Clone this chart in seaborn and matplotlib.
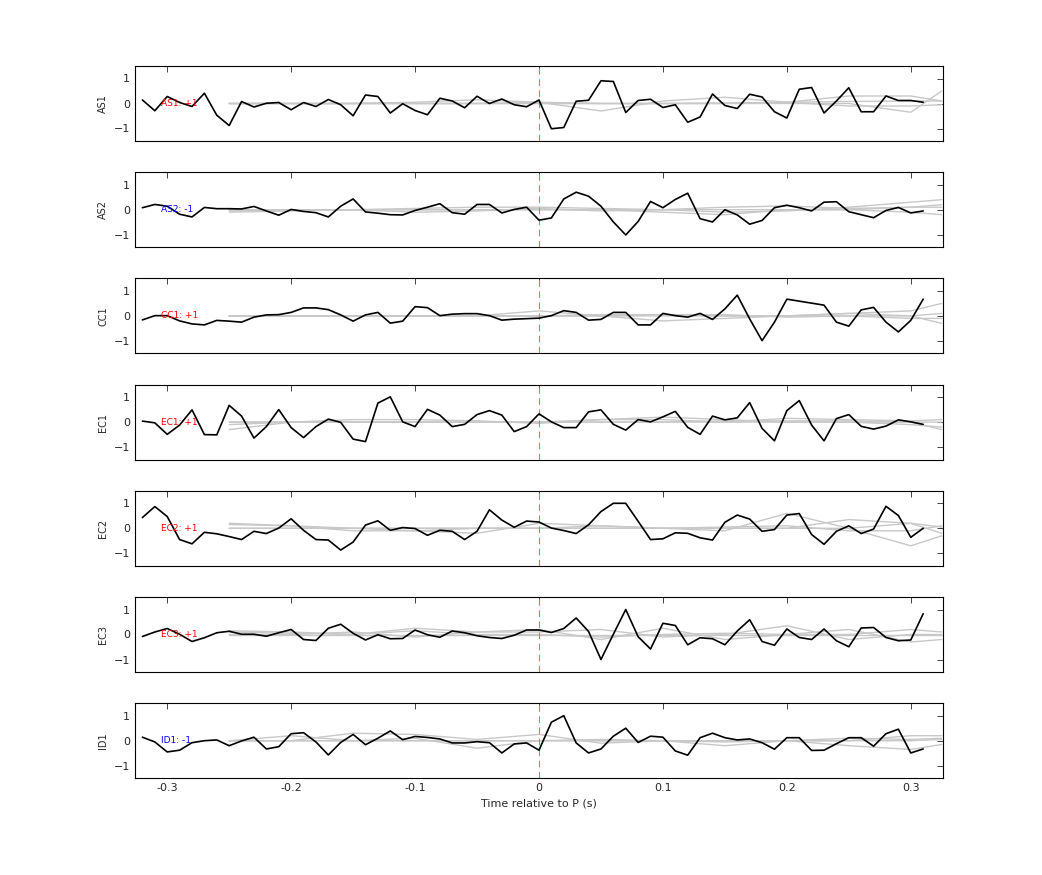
import numpy as np
import pandas as pd
import matplotlib
matplotlib.use("Agg")
import matplotlib.pyplot as plt
import seaborn as sns

sns.set_style("white")
plt.rcParams['font.family'] = ['DejaVu Sans']

stations = ["AS1", "AS2", "CC1", "EC1", "EC2", "EC3", "ID1"]
polarity = ["+1", "-1", "+1", "+1", "+1", "+1", "-1"]
times = np.round(np.arange(-0.32, 0.315, 0.01), 2)

AS1 = [0.14,-0.29,0.28,0.04,-0.12,0.41,-0.47,-0.88,0.08,-0.14,0.01,0.04,-0.25,0.04,-0.12,0.16,
       -0.05,-0.49,0.34,0.28,-0.38,-0.01,-0.28,-0.45,0.21,0.1,-0.17,0.29,0,0.18,-0.05,-0.13,
       0.14,-1.01,-0.96,0.09,0.13,0.91,0.88,-0.36,0.12,0.17,-0.16,-0.05,-0.75,-0.54,0.38,-0.08,
       -0.2,0.37,0.26,-0.33,-0.58,0.57,0.64,-0.38,0.1,0.63,-0.33,-0.33,0.3,0.12,0.12,0.05]
AS2 = [0.08,0.21,0.14,-0.18,-0.29,0.09,0.04,0.04,0.03,0.13,-0.05,-0.22,0.01,-0.07,-0.12,-0.29,
       0.14,0.43,-0.09,-0.14,-0.2,-0.21,-0.03,0.1,0.24,-0.12,-0.18,0.21,0.21,-0.13,0.01,0.1,
       -0.42,-0.33,0.43,0.7,0.54,0.14,-0.49,-1.01,-0.47,0.33,0.08,0.41,0.66,-0.36,-0.49,0,
       -0.21,-0.58,-0.43,0.08,0.18,0.08,-0.05,0.3,0.32,-0.08,-0.2,-0.32,-0.03,0.09,-0.13,-0.05]
CC1 = [-0.16,0.01,0.01,-0.2,-0.32,-0.36,-0.18,-0.21,-0.25,-0.05,0.04,0.05,0.14,0.32,0.32,0.25,
       0.04,-0.21,0.04,0.14,-0.29,-0.21,0.37,0.33,0.01,0.07,0.09,0.09,0.01,-0.17,-0.13,-0.11,
       -0.09,0.01,0.21,0.14,-0.17,-0.14,0.14,0.14,-0.36,-0.36,0.1,0.01,-0.05,0.1,-0.14,0.28,
       0.83,-0.12,-0.99,-0.25,0.67,0.59,0.51,0.43,-0.25,-0.41,0.24,0.34,-0.25,-0.64,-0.18,0.67]
EC1 = [0.04,-0.03,-0.49,-0.12,0.49,-0.5,-0.51,0.67,0.24,-0.64,-0.18,0.5,-0.22,-0.62,-0.18,0.12,
       -0.01,-0.68,-0.78,0.76,1.01,0.01,-0.18,0.51,0.28,-0.18,-0.09,0.3,0.46,0.28,-0.38,-0.18,
       0.33,0.01,-0.22,-0.22,0.41,0.49,-0.09,-0.32,0.1,0.01,0.21,0.43,-0.21,-0.49,0.24,0.09,
       0.17,0.78,-0.25,-0.75,0.46,0.86,-0.12,-0.75,0.14,0.3,-0.17,-0.28,-0.16,0.09,0.01,-0.09]
EC2 = [0.43,0.87,0.47,-0.45,-0.62,-0.16,-0.22,-0.33,-0.45,-0.12,-0.21,0.01,0.38,-0.08,-0.45,-0.47,
       -0.87,-0.55,0.13,0.3,-0.08,0.03,-0.01,-0.28,-0.08,-0.12,-0.45,-0.12,0.74,0.33,0.04,0.29,
       0.25,0.01,-0.09,-0.21,0.14,0.67,1.0,1.0,0.28,-0.45,-0.42,-0.18,-0.2,-0.38,-0.47,0.24,
       0.53,0.37,-0.12,-0.05,0.53,0.59,-0.25,-0.64,-0.12,0.1,-0.21,-0.03,0.88,0.51,-0.36,0]
EC3 = [-0.08,0.1,0.24,0.01,-0.28,-0.13,0.07,0.13,0.01,0.01,-0.07,0.07,0.2,-0.2,-0.24,0.25,
       0.41,0.05,-0.22,-0.01,-0.17,-0.16,0.18,-0.01,-0.11,0.14,0.07,-0.05,-0.12,-0.16,-0.03,0.18,
       0.18,0.08,0.24,0.66,0.12,-1.0,0.01,1.0,-0.09,-0.58,0.45,0.36,-0.41,-0.13,-0.17,-0.41,
       0.14,0.59,-0.28,-0.43,0.22,-0.12,-0.2,0.22,-0.25,-0.49,0.26,0.28,-0.12,-0.25,-0.22,0.83]
ID1 = [0.14,-0.05,-0.45,-0.38,-0.08,0,0.03,-0.2,-0.01,0.14,-0.33,-0.24,0.28,0.32,-0.05,-0.57,
       -0.07,0.25,-0.16,0.1,0.39,0.04,0.17,0.13,0.07,-0.09,-0.09,-0.04,-0.08,-0.49,-0.13,-0.09,
       -0.38,0.74,1.0,-0.09,-0.49,-0.33,0.18,0.5,-0.07,0.18,0.14,-0.41,-0.58,0.12,0.3,0.12,
       0.03,0.07,-0.08,-0.34,0.12,0.12,-0.39,-0.38,-0.12,0.12,0.12,-0.22,0.28,0.46,-0.49,-0.33]
black = [AS1, AS2, CC1, EC1, EC2, EC3, ID1]

# gray reference traces (coarse samples)
gtimes = [-0.25,-0.2,-0.15,-0.1,-0.05,0.0,0.05,0.1,0.15,0.2,0.25,0.3,0.325]
gray = {
 "AS1": [[0,0,0,0,0,0.05,-0.3,0.1,0.25,0.05,-0.1,-0.1,-0.05],
         [0,0,0,0.05,0.15,0.05,0,0,0,0.05,0.3,0.3,0.1],
         [0,0,0,0,0,0,0,0,0,0,0,-0.35,0.5],
         [0,0,0,0,0,0,0,0,0.02,0.05,0.08,0.1,0.1]],
 "AS2": [[-0.1,-0.05,0,0.05,0.1,0.1,0.05,0,-0.1,-0.05,0.1,0.3,0.4],
         [0,0,0,-0.1,-0.05,0.05,-0.05,0,0.1,0.15,0.05,0.1,0.1],
         [-0.05,0,0,0,0,0,0,-0.1,-0.2,0,0,-0.1,-0.2],
         [0,0,0,0,0,0,0,0,0,0,0,0.1,0.2]],
 "CC1": [[0,0,0,0,0,0.2,0,-0.2,-0.1,0,0.1,0,-0.3],
         [0,0,0,0,0,0,0.05,0.05,0,0,0.1,0.2,0.5],
         [0,0,0,0,0,0,0,0,0,0,0,0,0.1],
         [0,0,0,0,0,0,0,0.05,0.05,-0.05,0,-0.1,-0.1]],
 "EC1": [[-0.3,0,0,0,0,0,0.1,0.2,0.1,0,0,-0.1,-0.2],
         [-0.1,0,0.1,0.1,0.05,-0.05,0.1,0.1,0,0.15,0.1,0.05,0.1],
         [0,0,0,0,0,0,0,0,0,0,0,0,-0.3],
         [0,0,0,0,0,0,0,0,0.05,0.05,0.05,0,0]],
 "EC2": [[0.2,0.1,-0.1,-0.1,-0.2,0.2,0.1,0,-0.1,0.6,0,-0.7,-0.3],
         [0,0,0,0,0,0,0.1,0,0,0,0.35,0.2,0.05],
         [0.15,0.1,0,-0.1,0,0,0,0,0.05,0.1,-0.1,-0.1,0.1],
         [0,0,0,0,0,0,0,0,0,0,0,0.2,-0.2]],
 "EC3": [[0.15,0.1,0,0.25,0.1,0.1,0.2,-0.1,0,0.35,-0.2,0,0],
         [0,0,0.1,-0.1,0.1,0.2,-0.2,0.25,-0.2,0,0.2,-0.3,-0.2],
         [0,0,0,0,0,0,0,0,0,0,0,0,0],
         [0.1,0.05,0,0.15,0,0,-0.1,0,0.05,0,0,0.2,0.1]],
 "ID1": [[0,0,0.3,0.25,0.05,0.25,-0.1,0,-0.2,0,-0.2,-0.35,-0.15],
         [0,0.2,0,0.1,-0.3,0,0.05,0,0,0,0.1,0.05,0.1],
         [0,0,0,0,0,0,0,0,0,0,0,0.2,0.2],
         [0,0,0,0,0,0,0,0,-0.05,0,0,0,0.05]],
}

fig = plt.figure(figsize=(10.42, 8.75), dpi=100)
W, H = 1042, 875
for i, st in enumerate(stations):
    top = 66 + 106.2 * i
    ax = fig.add_axes([135 / W, 1 - (top + 75) / H, 808 / W, 75 / H])
    for g in gray[st]:
        ax.plot(gtimes, g, color="#c8c8c8", lw=1.0, zorder=1)
    df = pd.DataFrame({"t": times, "v": black[i]})
    sns.lineplot(data=df, x="t", y="v", ax=ax, color="black", lw=1.2, zorder=3)
    ax.axvline(0, color="#e07070", ls=(0, (6, 4)), lw=0.8, zorder=2)
    ax.set_xlim(-0.326, 0.326)
    ax.set_ylim(-1.5, 1.5)
    ax.set_yticks([-1, 0, 1])
    ax.set_xticks([-0.3, -0.2, -0.1, 0, 0.1, 0.2, 0.3])
    ax.tick_params(direction="in", top=True, right=True, labelsize=8, length=4, width=0.6)
    ax.set_ylabel(st, fontsize=7)
    ax.set_xlabel("")
    col = "red" if polarity[i] == "+1" else "blue"
    ax.text(-0.305, 0, f"{st}: {polarity[i]}", color=col, fontsize=6.5, va="center", zorder=4)
    for s in ax.spines.values():
        s.set_linewidth(0.8)
        s.set_color("black")
    if i < len(stations) - 1:
        ax.set_xticklabels([])
    else:
        ax.set_xticklabels(["-0.3", "-0.2", "-0.1", "0", "0.1", "0.2", "0.3"])
        ax.set_xlabel("Time relative to P (s)", fontsize=8)

fig.savefig("out.png", dpi=100)
